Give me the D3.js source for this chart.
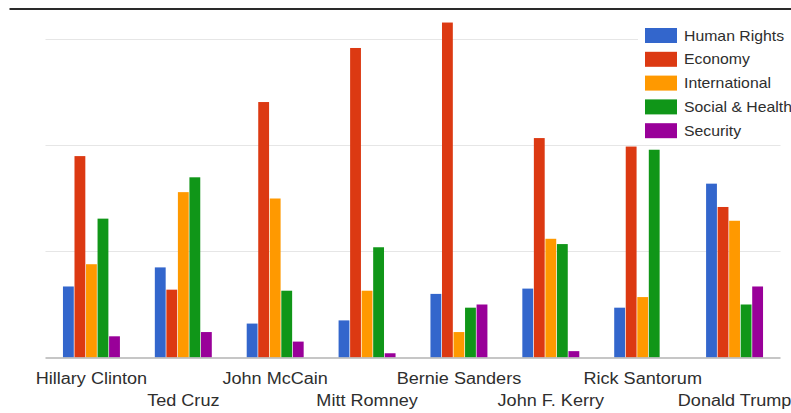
<!DOCTYPE html>
<html>
<head>
<meta charset="utf-8">
<script src="https://cdn.jsdelivr.net/npm/d3@7"></script>
<style>
  html, body { margin: 0; padding: 0; background: #fff; }
  svg { display: block; }
  text { font-family: "Liberation Sans", Arial, sans-serif; fill: #2e2e2e; }
</style>
</head>
<body>
<svg id="chart" width="791" height="413"></svg>
<script>
// Candidates and the topic scores for each one
const candidates = ["Hillary Clinton", "Ted Cruz", "John McCain", "Mitt Romney",
                    "Bernie Sanders", "John F. Kerry", "Rick Santorum", "Donald Trump"];
const topics = ["Human Rights", "Economy", "International", "Social & Health", "Security"];
const humanRights  = [6.7, 8.5, 3.2, 3.5, 6.0, 6.5, 4.7, 16.4];
const economy      = [19.0, 6.4, 24.1, 29.2, 31.6, 20.7, 19.9, 14.2];
const international= [8.8, 15.6, 15.0, 6.3, 2.4, 11.2, 5.7, 12.9];
const socialHealth = [13.1, 17.0, 6.3, 10.4, 4.7, 10.7, 19.6, 5.0];
const security     = [2.0, 2.4, 1.5, 0.4, 5.0, 0.6, 0, 6.7];
const gridTicks = [0, 10, 20, 30];
const colors = ["#3366cc", "#dc3912", "#ff9900", "#109618", "#990099"];

const seriesValues = [humanRights, economy, international, socialHealth, security];
const rows = candidates.map((c, i) => ({
  name: c,
  values: topics.map((t, k) => ({ topic: t, value: seriesValues[k][i] }))
}));

const svg = d3.select("#chart");
const stretch = 1.13; // horizontal text scaling

const x0 = d3.scaleBand().domain(candidates).range([45.5, 780.5])
  .paddingInner(0.38).paddingOuter(0.19);
const x1 = d3.scaleBand().domain(topics).range([0, x0.bandwidth()]).paddingInner(0.06);
const y = d3.scaleLinear().domain([0, 30]).range([357.5, 39.5]);
const color = d3.scaleOrdinal().domain(topics).range(colors);

// top frame line
svg.append("line")
  .attr("x1", 9.5).attr("x2", 791).attr("y1", 9).attr("y2", 9)
  .attr("stroke", "#2a2a2a").attr("stroke-width", 2.2);

// gridlines
svg.append("g").selectAll("line")
  .data(gridTicks.filter(d => d > 0))
  .join("line")
  .attr("x1", 45.5).attr("x2", 780.5)
  .attr("y1", d => y(d)).attr("y2", d => y(d))
  .attr("stroke", "#e6e6e6").attr("stroke-width", 1.2);

// bars
const groups = svg.append("g").selectAll("g")
  .data(rows).join("g")
  .attr("transform", d => `translate(${x0(d.name)},0)`);
groups.selectAll("rect")
  .data(d => d.values.filter(v => v.value > 0))
  .join("rect")
  .attr("x", d => x1(d.topic))
  .attr("width", x1.bandwidth())
  .attr("y", d => y(d.value))
  .attr("height", d => y(0) - y(d.value))
  .attr("fill", d => color(d.topic));

// baseline
svg.append("line")
  .attr("x1", 45.5).attr("x2", 780.5)
  .attr("y1", y(0) + 0.5).attr("y2", y(0) + 0.5)
  .attr("stroke", "#b3b3b3").attr("stroke-width", 1.6);

// category labels, staggered on two rows
svg.append("g").selectAll("text")
  .data(candidates).join("text")
  .attr("transform", (d, i) =>
    `translate(${x0(d) + x0.bandwidth() / 2},${i % 2 === 0 ? 384 : 406}) scale(${stretch},1)`)
  .attr("text-anchor", "middle")
  .attr("font-size", 16)
  .text(d => d);

// legend
const legend = svg.append("g");
legend.append("rect")
  .attr("x", 638).attr("y", 22).attr("width", 153).attr("height", 118)
  .attr("fill", "#fff");
const items = legend.selectAll("g.item")
  .data(topics).join("g").attr("class", "item")
  .attr("transform", (d, i) => `translate(645,${35.5 + i * 23.8})`);
items.append("rect")
  .attr("x", 0).attr("y", -7.5).attr("width", 32).attr("height", 15)
  .attr("fill", d => color(d));
items.append("text")
  .attr("transform", `translate(39,5) scale(${stretch},1)`)
  .attr("font-size", 14)
  .text(d => d);
</script>
</body>
</html>
